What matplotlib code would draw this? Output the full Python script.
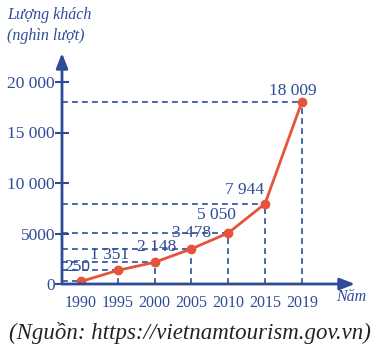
import matplotlib.pyplot as plt

# données
annees = ['1990', '1995', '2000', '2005', '2010', '2015', '2019']
luot_khach = [250, 1351, 2148, 3478, 5050, 7944, 18009]
etiquettes = ['250', '1 351', '2 148', '3 478', '5 050', '7 944', '18 009']
decalages = [(-4, 14), (-8, 15), (2, 15), (0, 16), (-12, 18), (-20, 14), (-9, 11)]
yticks = [0, 5000, 10000, 15000, 20000]
ytick_labels = ['0', '5000', '10 000', '15 000', '20 000']

bleu = '#2e4b98'
rouge = '#e5533a'
plt.rcParams['font.family'] = 'Liberation Serif'

W, H = 379, 351
fig = plt.figure(figsize=(W / 100, H / 100), dpi=100)
# axe y à x=62 px, axe x à y=284 px
x0, y0, x1, y1 = 62, 284, 355, 53
ax = fig.add_axes([x0 / W, (H - y0) / H, (x1 - x0) / W, (y0 - y1) / H])
px = 36.8
ax.set_xlim((x0 - 81) / px, (x1 - 81) / px)
ax.set_ylim(0, (y0 - y1) / 50.5 * 5000)

xs = list(range(len(annees)))

# lignes pointillées
for x, v in zip(xs, luot_khach):
    ax.plot([ax.get_xlim()[0], x], [v, v], color=bleu, lw=1.2, ls=(0, (3.5, 2.5)), zorder=1)
    ax.plot([x, x], [0, v], color=bleu, lw=1.2, ls=(0, (3.5, 2.5)), zorder=1)

ax.plot(xs, luot_khach, color=rouge, lw=2, marker='o', markersize=6, zorder=3)

for x, v, t, d in zip(xs, luot_khach, etiquettes, decalages):
    ax.annotate(t, (x, v), xytext=d, textcoords='offset pixels', ha='center', va='center',
                color=bleu, fontsize=12.5, zorder=4)

for s in ax.spines.values():
    s.set_visible(False)

ax.annotate('', xy=(0, 1), xytext=(0, 0), xycoords='axes fraction',
            arrowprops=dict(arrowstyle='-|>,head_length=0.9,head_width=0.35', color=bleu, lw=2,
                            shrinkA=0, shrinkB=0))
ax.annotate('', xy=(1, 0), xytext=(0, 0), xycoords='axes fraction',
            arrowprops=dict(arrowstyle='-|>,head_length=0.9,head_width=0.35', color=bleu, lw=2,
                            shrinkA=0, shrinkB=0))

ax.set_yticks(yticks)
ax.set_yticklabels(ytick_labels)
ax.set_xticks(xs)
ax.set_xticklabels(annees)
ax.tick_params(axis='y', direction='inout', length=10, width=1.5, color=bleu,
               labelcolor=bleu, labelsize=12.5, pad=0)
ax.tick_params(axis='x', length=0, labelcolor=bleu, labelsize=11.5, pad=8)

fig.text(7 / W, 1 - 15 / H, 'Lượng khách', color=bleu, style='italic', fontsize=11.5, va='center')
fig.text(7 / W, 1 - 36 / H, '(nghìn lượt)', color=bleu, style='italic', fontsize=11.5, va='center')
fig.text(351 / W, 1 - 297 / H, 'Năm', color=bleu, style='italic', fontsize=11.5, ha='center', va='center')
fig.text(190 / W, 1 - 333 / H, '(Nguồn: https://vietnamtourism.gov.vn)', color='#222222',
         style='italic', fontsize=16.5, ha='center', va='center')

fig.savefig('out.png', dpi=100)
